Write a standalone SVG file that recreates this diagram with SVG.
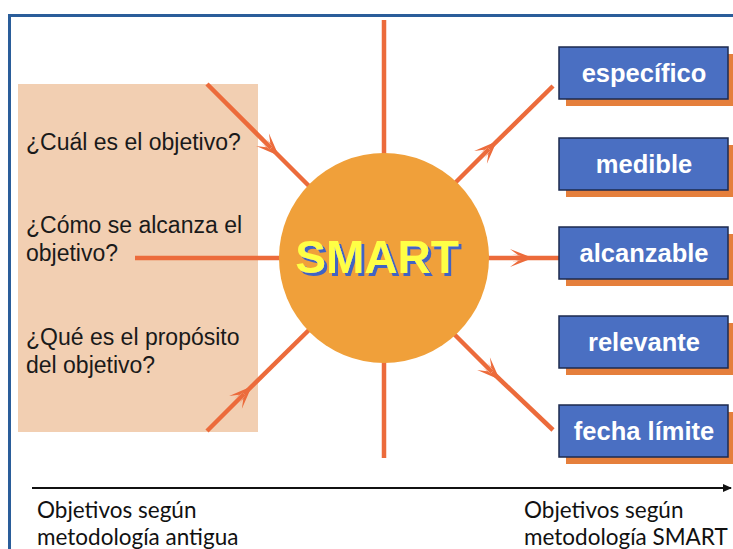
<svg xmlns="http://www.w3.org/2000/svg" width="733" height="549" viewBox="0 0 733 549">
<defs>
<style>
.ray{stroke:#ec6b3b;stroke-width:4.5;fill:none;stroke-linecap:butt}
.q{font-family:"Liberation Sans",Arial,sans-serif;font-size:23px;fill:#1a1a1a}
.box{fill:#4a6fc2;stroke:#1c2a4e;stroke-width:1.5}
.sh{fill:#e57f3c}
.bt{font-family:"Liberation Sans",Arial,sans-serif;font-size:25.5px;font-weight:bold;fill:#ffffff;text-anchor:middle}
.ax{font-family:Lato,"Open Sans",sans-serif;font-size:22.5px;fill:#111111}
</style>
<filter id="ds" x="-10%" y="-20%" width="120%" height="150%">
<feFlood flood-color="#3f63c4" result="c"/>
<feComposite in="c" in2="SourceAlpha" operator="in" result="s"/>
<feOffset in="s" dx="3" dy="3" result="o"/>
<feMerge><feMergeNode in="o"/><feMergeNode in="SourceGraphic"/></feMerge>
</filter>
<marker id="barb" markerWidth="26" markerHeight="26" refX="13" refY="13" orient="auto" markerUnits="userSpaceOnUse">
<path d="M24,13 L1,4 L9,10 L3,9.5 Z M24,13 L1,22 L9,16 L3,16.5 Z" fill="#ec6b3b"/>
</marker>
<marker id="ah" markerWidth="10" markerHeight="10" refX="8" refY="5" orient="auto" markerUnits="userSpaceOnUse">
<path d="M0,1 L9,5 L0,9 Z" fill="#111"/>
</marker>
</defs>
<rect width="733" height="549" fill="#ffffff"/>
<path d="M9.5,560 L9.5,15.5 L740,15.5" fill="none" stroke="#2a5d9a" stroke-width="3"/>
<g id="left-panel">
<rect x="18" y="84" width="240" height="348" fill="#f2cfb2"/>
<text class="q" x="26" y="150">¿Cuál es el objetivo?</text>
<text class="q" x="26" y="233">¿Cómo se alcanza el</text>
<text class="q" x="26" y="261">objetivo?</text>
<text class="q" x="26" y="345">¿Qué es el propósito</text>
<text class="q" x="26" y="373">del objetivo?</text>
</g>
<g id="connectors">
<line class="ray" x1="384" y1="20" x2="384" y2="458"/>
<line class="ray" x1="135" y1="258" x2="384" y2="258"/>
<path class="ray" d="M384,258 L522,258" marker-end="url(#barb)"/>
<line class="ray" x1="522" y1="258" x2="560" y2="258"/>
<path class="ray" d="M207,84 L271,148" marker-end="url(#barb)"/>
<line class="ray" x1="271" y1="148" x2="314" y2="191"/>
<path class="ray" d="M207,431 L244,394" marker-end="url(#barb)"/>
<line class="ray" x1="244" y1="394" x2="314" y2="325"/>
<path class="ray" d="M446,192 L489,149" marker-end="url(#barb)"/>
<line class="ray" x1="489" y1="149" x2="553" y2="86"/>
<path class="ray" d="M446,326 L492,372" marker-end="url(#barb)"/>
<line class="ray" x1="492" y1="372" x2="553" y2="430"/>
<line x1="32" y1="488" x2="731" y2="488" stroke="#111" stroke-width="2" marker-end="url(#ah)"/>
</g>
<g id="smart">
<circle cx="384" cy="258" r="105" fill="#f0a03a"/>
<text x="377" y="273" font-family="Liberation Sans,Arial,sans-serif" font-size="46" font-weight="bold" fill="#ffff44" text-anchor="middle" filter="url(#ds)">SMART</text>
</g>
<g id="especifico">
<rect class="sh" x="566" y="54" width="170" height="52"/>
<rect class="box" x="559" y="47" width="169" height="52"/>
<text class="bt" x="644" y="82">específico</text>
</g>
<g id="medible">
<rect class="sh" x="566" y="145" width="170" height="52"/>
<rect class="box" x="559" y="138" width="169" height="52"/>
<text class="bt" x="644" y="173">medible</text>
</g>
<g id="alcanzable">
<rect class="sh" x="566" y="234" width="170" height="52"/>
<rect class="box" x="559" y="227" width="169" height="52"/>
<text class="bt" x="644" y="262">alcanzable</text>
</g>
<g id="relevante">
<rect class="sh" x="566" y="323" width="170" height="52"/>
<rect class="box" x="559" y="316" width="169" height="52"/>
<text class="bt" x="644" y="351">relevante</text>
</g>
<g id="fecha">
<rect class="sh" x="566" y="412" width="170" height="52"/>
<rect class="box" x="559" y="405" width="169" height="52"/>
<text class="bt" x="644" y="440">fecha límite</text>
</g>
<g id="axis-labels">
<text class="ax" x="37" y="518">Objetivos según</text>
<text class="ax" x="37" y="545">metodología antigua</text>
<text class="ax" x="524" y="518">Objetivos según</text>
<text class="ax" x="524" y="545">metodología SMART</text>
</g>
</svg>
